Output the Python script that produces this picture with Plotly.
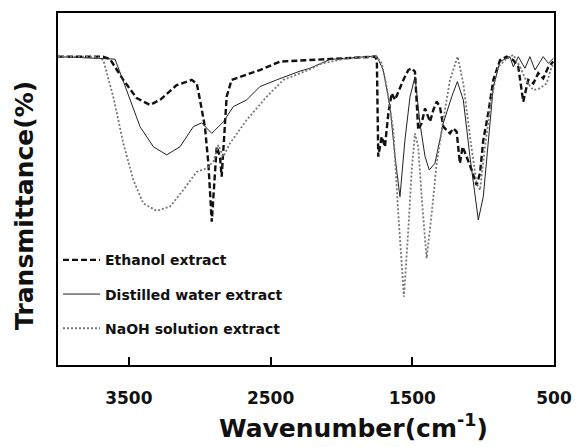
import plotly.graph_objects as go

# Ethanol extract
eth_wn = [4000, 3682, 3633, 3539, 3445, 3351, 3280, 3163, 3057, 3021, 2998, 2963, 2939, 2915,
          2880, 2857, 2845, 2810, 2775, 2575, 2434, 2222, 2151, 1763, 1750, 1740, 1716, 1693,
          1669, 1645, 1622, 1599, 1563, 1528, 1504, 1481, 1458, 1434, 1410, 1375, 1352, 1328,
          1305, 1281, 1258, 1234, 1211, 1187, 1164, 1145, 1117, 1081, 1046, 1022, 999, 964,
          928, 881, 834, 787, 752, 717, 682, 646, 611, 576, 540, 505]
eth_t = [87.6, 87.6, 86.9, 81.0, 75.8, 73.9, 75.3, 79.5, 81.0, 80.0, 75.3, 67.6, 57.3, 40.7,
         62.0, 59.2, 53.5, 76.2, 81.0, 83.8, 86.2, 86.6, 86.8, 87.6, 86.6, 59.2, 64.9, 62.0,
         71.5, 77.2, 75.3, 77.6, 81.0, 83.8, 84.3, 83.3, 66.8, 68.7, 72.9, 69.1, 72.4, 74.8,
         73.4, 67.7, 66.8, 65.8, 67.2, 66.3, 57.3, 62.0, 59.2, 55.4, 51.1, 54.5, 63.9, 71.5,
         81.0, 86.6, 87.6, 86.6, 84.7, 74.8, 81.0, 80.0, 82.9, 81.4, 84.7, 86.2]

# Distilled water extract
dw_wn = [4000, 3598, 3551, 3515, 3421, 3327, 3233, 3139, 3045, 2986, 2915, 2833, 2763, 2669,
         2575, 2457, 2292, 2222, 2081, 1751, 1705, 1657, 1622, 1587, 1552, 1516, 1481, 1446,
         1410, 1380, 1340, 1281, 1222, 1182, 1140, 1093, 1034, 999, 964, 928, 881, 811, 787,
         752, 705, 670, 634, 576, 540, 505]
dw_t = [87.6, 86.9, 81.9, 78.1, 67.7, 62.0, 59.7, 62.0, 67.7, 68.8, 65.8, 69.1, 73.4, 75.3,
        79.1, 81.0, 83.5, 84.3, 86.8, 87.8, 83.8, 73.4, 59.2, 47.8, 63.9, 76.2, 81.9, 68.7,
        59.2, 55.4, 57.3, 68.7, 76.2, 80.5, 75.3, 59.2, 41.2, 47.8, 63.9, 79.1, 86.2, 87.6, 84.7,
        87.6, 84.3, 87.6, 83.8, 87.6, 85.7, 87.1]

# NaOH solution extract
na_wn = [4000, 3725, 3680, 3610, 3539, 3469, 3398, 3304, 3210, 3116, 3021, 2951, 2904, 2869,
         2833, 2786, 2669, 2528, 2410, 2222, 2150, 1963, 1751, 1716, 1681, 1634, 1599, 1559,
         1528, 1504, 1481, 1458, 1434, 1399, 1363, 1328, 1281, 1234, 1180, 1140, 1093, 1046,
         1022, 987, 940, 893, 834, 787, 740, 693, 646, 600, 552, 517, 500]
na_t = [87.6, 87.6, 86.6, 76.2, 63.0, 52.6, 45.9, 43.8, 45.0, 49.7, 54.9, 55.9, 57.8, 62.5,
        59.2, 63.0, 69.6, 76.2, 81.0, 84.0, 85.5, 87.1, 87.6, 85.7, 79.1, 66.8, 43.1, 19.4,
        38.4, 55.4, 65.8, 62.0, 47.8, 30.3, 43.1, 57.3, 69.6, 81.0, 87.6, 80.0, 64.9, 51.6,
        49.7, 62.0, 76.2, 84.7, 87.1, 88.1, 84.7, 80.5, 78.1, 78.6, 80.0, 84.7, 85.8]

names = ["Ethanol extract", "Distilled water extract", "NaOH solution extract"]
x_ticks = [3500, 2500, 1500, 500]
x_title = "Wavenumber(cm<sup>-1</sup>)"
y_title = "Transmittance(%)"

FONT = "DejaVu Sans"

fig = go.Figure()
fig.add_trace(go.Scatter(x=eth_wn, y=eth_t, mode="lines", name=names[0], legendgroup="a",
                         line=dict(color="#111111", width=2.4, dash="6px,3px")))
fig.add_trace(go.Scatter(x=dw_wn, y=dw_t, mode="lines", name=names[1], legendgroup="b",
                         line=dict(color="#222222", width=1.0)))
fig.add_trace(go.Scatter(x=na_wn, y=na_t, mode="lines", name=names[2], legendgroup="c",
                         line=dict(color="#777777", width=1.8, dash="2px,2px")))

fig.update_layout(
    width=576, height=447,
    margin=dict(l=58, r=22, t=13, b=82, autoexpand=False),
    paper_bgcolor="white", plot_bgcolor="white",
    font=dict(family=FONT, color="#111111"),
    showlegend=True,
    legend=dict(x=0.0, y=0.343, xanchor="left", yanchor="top",
                bgcolor="rgba(0,0,0,0)", tracegroupgap=13, itemwidth=37,
                font=dict(family=FONT, size=14, weight="bold", color="#111111")),
    xaxis=dict(range=[4000, 500], tickvals=x_ticks, ticks="inside", ticklen=8,
               tickwidth=1.5, tickcolor="black",
               showline=True, linecolor="black", linewidth=2, mirror=True,
               showgrid=False, zeroline=False, ticklabelstandoff=17,
               tickfont=dict(family=FONT, size=17, weight="bold", color="#111111")),
    yaxis=dict(range=[0, 100], showticklabels=False, ticks="",
               showline=True, linecolor="black", linewidth=2, mirror=True,
               showgrid=False, zeroline=False),
    annotations=[
        dict(text=x_title, xref="paper", yref="paper", x=0.595, y=-0.176,
             xanchor="center", yanchor="middle", showarrow=False,
             font=dict(family=FONT, size=25, weight="bold", color="#111111")),
        dict(text=y_title, xref="paper", yref="paper", x=-0.0665, y=0.452,
             xanchor="center", yanchor="middle", showarrow=False, textangle=-90,
             font=dict(family=FONT, size=25, weight="bold", color="#111111")),
    ],
)

fig.write_html("out.html", post_script="document.body.style.margin='0px';",
               config={"displayModeBar": False})
